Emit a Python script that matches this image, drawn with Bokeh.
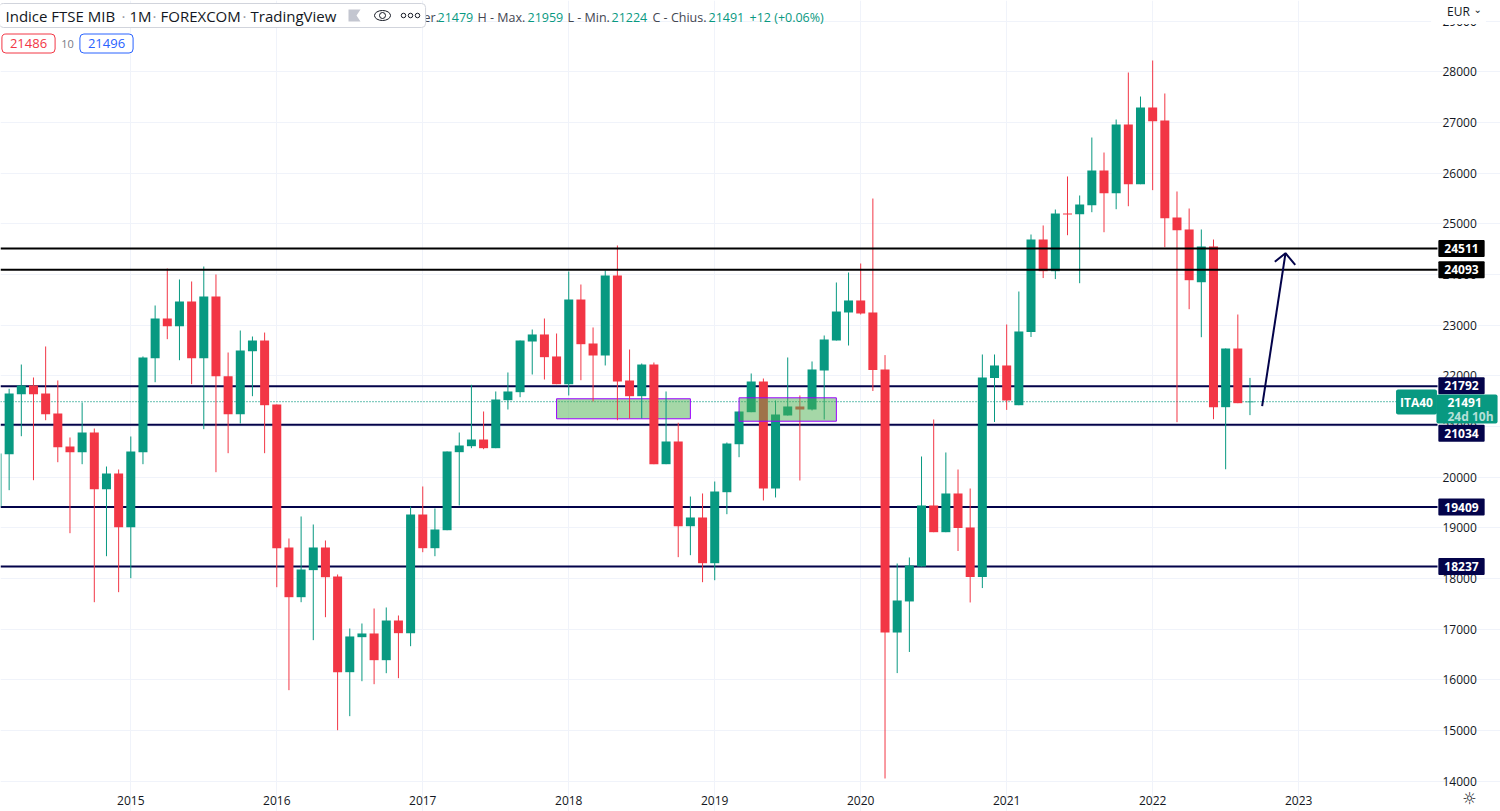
from bokeh.plotting import figure
from bokeh.models import Label, FixedTicker, NumeralTickFormatter, Range1d, ColumnDataSource, LinearAxis, Grid
from bokeh.embed import file_html
from bokeh.resources import INLINE

# Monthly candles, index 0 = January 2015
first_month = -11
opens  = [19421,20453,21637,21809,21651,21256,20605,20493,20881,19763,20072,19013,20493,22348,23131,22979,23467,22348,23565,21993,21243,22486,22697,21434,18612,17631,18165,18612,18040,16151,16842,16915,16388,17171,16921,19263,18598,18953,20493,20611,20743,20572,21519,21677,22677,22816,22382,21835,23506,22638,22401,23980,21908,21598,22223,20256,20704,19032,19204,18302,19703,20650,21282,21888,19776,21217,21395,21335,22105,22697,23250,23487,23250,22125,16934,17547,18237,19441,18914,19678,19007,18030,21957,22204,21420,22863,24690,24065,25203,25189,25367,26052,25604,26960,25782,27295,27039,25125,24888,23847,24552,21381,22539,21479]
closes = [20467,21651,21809,21637,21243,20591,20493,20881,19763,20072,19013,20507,22362,23131,22979,23467,22348,23565,21993,21243,22500,22697,21420,18598,17631,18178,18612,18026,16151,16856,16915,16388,17171,16921,19263,18598,18967,20507,20625,20743,20572,21533,21691,22697,22816,22368,21835,23506,22624,22401,23980,21888,21598,22223,20256,20704,19032,19204,18302,19717,20664,21296,21888,19776,21237,21395,21335,22125,22717,23269,23487,23230,22115,16934,17566,18257,19441,18914,19678,18997,18030,21967,22204,21513,22875,24690,24065,25203,25183,25381,26052,25604,26960,25782,27295,27025,25110,24874,23887,24552,21381,22539,21460,21491]
highs  = [20467,21744,22223,21967,22579,21908,20783,21474,20960,20210,20151,20803,22382,23388,24118,23901,23862,24157,24000,22460,22894,22776,22854,21434,18790,19224,19066,18750,18079,17013,17112,17408,17428,17270,19421,19816,19382,20507,20881,21823,21296,21691,22066,22697,22914,23131,22835,24059,23802,22954,24078,24572,22519,22243,22263,21691,21073,19618,19678,19914,20684,21296,22046,21947,21513,22362,21612,22283,22796,23842,24039,24217,25499,22409,18296,18415,20408,21138,20487,20151,19776,22421,22421,23013,23664,24789,24967,25282,25934,25559,26703,26407,27058,27986,27512,28223,27572,25638,25302,24888,24690,22539,23210,21959]
lows   = [19421,19743,20808,19940,21124,20295,18894,20256,17532,18440,17730,18006,20256,21874,22723,22308,21835,20947,20098,20473,21059,21598,20473,17828,15796,17532,16783,17236,15006,15283,15973,15914,16131,16033,16664,18519,18440,18953,19441,20572,20552,20572,21335,21578,22026,21927,21835,21612,21913,21493,22204,21124,21158,21158,20256,20256,18421,18460,17927,17966,19269,20394,21282,19540,19599,21217,19934,21316,21138,22697,22598,23210,21700,14053,16133,16550,18237,18914,18914,18543,17527,17811,21089,21327,21420,22766,23929,23909,24775,23828,25229,24834,25288,25347,25782,25664,24538,21085,23315,22762,21144,20156,21460,21224]

price_ticks = [14000,15000,16000,17000,18000,19000,20000,21000,22000,23000,24000,25000,26000,27000,28000,29000]
year_ticks = [0,12,24,36,48,60,72,84,96]
year_labels = ["2015","2016","2017","2018","2019","2020","2021","2022","2023"]

black_levels = [24511,24093]
navy_levels = [21792,21034,19409,18237]
last_price = 21491

box1_x = [35.0,46.0]
box1_y = [21152,21547]
box2_x = [50.0,58.0]
box2_y = [21104,21566]
arrow_x = [93.0,94.92]
arrow_y = [21401,24420]
head_x = [94.04,94.92,95.72]
head_y = [24250,24420,24191]

# layout in page pixels
W, H = 1500, 811
PANE_R, PANE_B = 1437, 785
X0, DX = 130.3, 12.165
Y28, PXK = 71.3, 50.67
def px2x(px): return (px - X0) / DX
def px2y(py): return 28000 - (py - Y28) / PXK * 1000

GREEN, RED = "#089981", "#F23645"
NAVY, INK = "#03034A", "#131722"
FONT = "Open Sans"

x = [first_month + i for i in range(len(opens))]
colors = [GREEN if c >= o else RED for o, c in zip(opens, closes)]
src = ColumnDataSource(dict(x=x, top=[max(a, b) for a, b in zip(opens, closes)],
                            bottom=[min(a, b) for a, b in zip(opens, closes)],
                            high=highs, low=lows, color=colors))

p = figure(width=W, height=H, output_backend="svg", toolbar_location=None,
           x_range=Range1d(px2x(0), px2x(W)), y_range=Range1d(px2y(H), px2y(0)),
           x_axis_type=None, y_axis_type=None,
           min_border_left=0, min_border_top=0, min_border_right=0, min_border_bottom=0,
           background_fill_color="white", border_fill_color="white", outline_line_color=None)

x_l, x_r = px2x(0), px2x(PANE_R)
y_b, y_t = px2y(PANE_B), px2y(0)
x_dot_end = px2x(1396)

xaxis = LinearAxis(ticker=FixedTicker(ticks=year_ticks), fixed_location=y_b,
                   major_label_overrides=dict(zip(year_ticks, year_labels)), major_label_standoff=4)
yaxis = LinearAxis(ticker=FixedTicker(ticks=price_ticks), fixed_location=px2x(1432),
                   formatter=NumeralTickFormatter(format="0"), major_label_standoff=4)
for ax in (xaxis, yaxis):
    ax.axis_line_color = None
    ax.major_tick_line_color = None
    ax.minor_tick_line_color = None
    ax.major_label_text_font = FONT
    ax.major_label_text_font_size = "12px"
    ax.major_label_text_color = INK
p.add_layout(xaxis, "below")
p.add_layout(yaxis, "right")

p.add_layout(Grid(dimension=0, ticker=FixedTicker(ticks=year_ticks), bounds=(y_b, y_t),
                  grid_line_color="#F0F3FA", grid_line_width=1))
p.add_layout(Grid(dimension=1, ticker=FixedTicker(ticks=price_ticks), bounds=(x_l, x_r),
                  grid_line_color="#F0F3FA", grid_line_width=1))

for lv in navy_levels:
    p.segment(x0=[x_l], y0=[lv], x1=[x_r], y1=[lv], line_color=NAVY, line_width=2)
dotted = p.segment(x0=[x_l], y0=[last_price], x1=[x_dot_end], y1=[last_price], line_color=GREEN, line_width=1.2)
dotted.glyph.line_dash = [1, 2]

p.quad(left=[box1_x[0]], right=[box1_x[1]], bottom=[box1_y[0]], top=[box1_y[1]],
       fill_color="#4CAF50", fill_alpha=0.5, line_color="#9C00FF", line_width=1)

p.segment(x0="x", y0="low", x1="x", y1="high", color="color", line_width=1, source=src)
p.vbar(x="x", width=0.74, top="top", bottom="bottom", fill_color="color", line_color=None, source=src)

for lv in black_levels:
    p.segment(x0=[x_l], y0=[lv], x1=[x_r], y1=[lv], line_color="black", line_width=2)

p.quad(left=[box2_x[0]], right=[box2_x[1]], bottom=[box2_y[0]], top=[box2_y[1]],
       fill_color="#4CAF50", fill_alpha=0.5, line_color="#9C00FF", line_width=1)

p.line(arrow_x, arrow_y, line_color=NAVY, line_width=2)
p.line(head_x, head_y, line_color=NAVY, line_width=2)

def text(s, xp, yp, size=13, color=INK, align="left", font=FONT, **kw):
    p.add_layout(Label(x=xp, y=H - yp, x_units="screen", y_units="screen", text=s,
                       text_font=font, text_font_size=f"{size}px", text_color=color,
                       text_align=align, text_baseline="middle", **kw))

# price badges
for lv, col, off in [(24511, "black", 0), (24093, "black", 0), (21792, NAVY, 0.5),
                     (21034, NAVY, -8.5), (19409, NAVY, 0), (18237, NAVY, 0)]:
    p.add_layout(Label(x=1461, y=lv, x_units="screen", y_units="data", y_offset=off, text=str(lv),
                       text_font=FONT, text_font_size="12px", text_font_style="bold", text_color="white",
                       text_align="center", text_baseline="middle", background_fill_color=col,
                       padding=(6, 4), border_radius=1))

text(" ", 1466.5, 408.5, size=12, color="white", align="center", background_fill_color=GREEN,
     padding=(29, 6), border_radius=2)
text("21491", 1447, 401.5, size=12, color="white", text_font_style="bold")
text("24d 10h", 1447, 415.5, size=12, color="#B5E0D8", text_font_style="bold")
text("ITA40", 1416, 401.5, size=12, color="white", align="center", text_font_style="bold",
     background_fill_color=GREEN, padding=(4, 4), border_radius=2)

# currency corner
text("EUR", 1458, 11, size=12, align="center", background_fill_color="white", padding=(16, 4))
text("\u2304", 1473, 9, size=10, font="DejaVu Sans")
text("\u263C", 1469, 798, size=16, font="DejaVu Sans", align="center")

# OHLC header
for s, xp, col in [("er.", 423, "#434651"), ("21479", 437, GREEN), ("H - Max.", 477, "#434651"), ("21959", 527, GREEN),
                   ("L - Min.", 567, "#434651"), ("21224", 611, GREEN), ("C - Chius.", 652, "#434651"),
                   ("21491", 708, GREEN), ("+12 (+0.06%)", 749, GREEN)]:
    text(s, xp, 16.5, size=12.5, color=col)

# title pill
text(" ", 212, 15, size=16, align="center", background_fill_color="white", border_line_color="#D1D4DC",
     padding=(211, 1), border_radius=4)
for s, xp, col in [("Indice FTSE MIB", 5, INK), ("\u00b7", 121, "#9598A1"), ("1M", 129, INK), ("\u00b7", 152, "#9598A1"),
                   ("FOREXCOM", 160, INK), ("\u00b7", 242, "#9598A1"), ("TradingView", 250, INK)]:
    text(s, xp, 15, size=15, color=col)

# pill icons
p.patch([px2x(v) for v in (348, 360, 356, 360, 348)], [px2y(v) for v in (9, 9, 15, 21, 21)],
        fill_color="#C3C6D0", line_color=None, level="overlay")
p.ellipse(x=[px2x(382)], y=[px2y(15)], width=16 / DX, height=10 / PXK * 1000, fill_color=None,
          line_color=INK, line_width=1, level="overlay")
p.scatter(x=[px2x(382)], y=[px2y(15)], size=6, fill_color=None, line_color=INK, line_width=1, level="overlay")
p.scatter(x=[px2x(v) for v in (403, 410, 417)], y=[px2y(15)] * 3, size=4.5, fill_color=None,
          line_color=INK, line_width=1, level="overlay")

# buy / sell pills
text("21486", 28, 43, size=13, color=RED, align="center", background_fill_color="white",
     border_line_color=RED, padding=(8, 5), border_radius=4)
text("10", 67, 43, size=11, color="#787B86", align="center")
text("21496", 106, 43, size=13, color="#2962FF", align="center", background_fill_color="white",
     border_line_color="#2962FF", padding=(8, 5), border_radius=4)

open("out.html", "w").write(file_html(p, INLINE))
